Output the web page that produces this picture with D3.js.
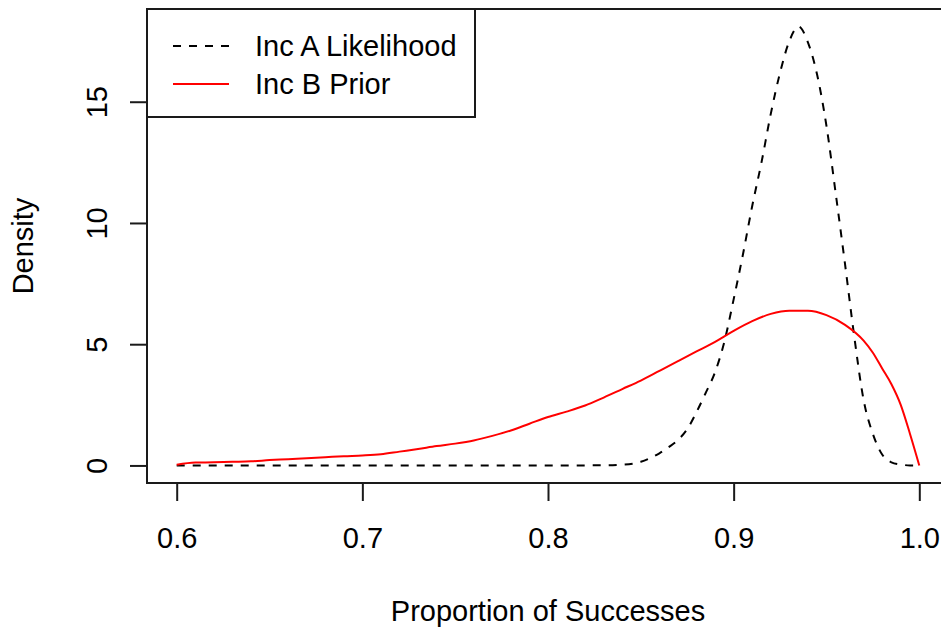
<!DOCTYPE html>
<html>
<head>
<meta charset="utf-8">
<script src="https://cdn.jsdelivr.net/npm/d3@7"></script>
<style>
  html, body { margin: 0; padding: 0; background: #fff; }
  svg { display: block; font-family: "Liberation Sans", Arial, sans-serif; }
</style>
</head>
<body>
<svg id="chart" width="941" height="627"></svg>
<script>
// ---- data ----
const likeX = [0.60, 0.65, 0.70, 0.75, 0.80, 0.83, 0.84, 0.85, 0.86, 0.865, 0.87, 0.875, 0.88, 0.885, 0.89, 0.895,
  0.90, 0.905, 0.91, 0.915, 0.92, 0.925, 0.93, 0.935, 0.94, 0.945, 0.95, 0.955, 0.96, 0.965, 0.97, 0.975,
  0.98, 0.985, 0.99, 0.995, 1.00];
const likeY = [0, 0, 0, 0, 0, 0.005, 0.03, 0.15, 0.5, 0.75, 1.05, 1.5, 2.2, 3.0, 3.85, 5.1,
  6.85, 8.7, 10.7, 12.5, 14.5, 16.2, 17.5, 18.1, 17.45, 16.1, 14.0, 11.2, 8.3, 5.3, 2.7, 1.3,
  0.45, 0.13, 0.04, 0.0, 0.0];

const priorX = [0.60, 0.61, 0.62, 0.63, 0.64, 0.65, 0.66, 0.67, 0.68, 0.69, 0.70, 0.71, 0.72, 0.73, 0.74,
  0.75, 0.76, 0.77, 0.78, 0.79, 0.80, 0.81, 0.82, 0.83, 0.84, 0.85, 0.86, 0.87, 0.88, 0.89, 0.90,
  0.91, 0.92, 0.93, 0.94, 0.95, 0.96, 0.97, 0.975, 0.98, 0.985, 0.99, 0.995, 1.00];
const priorY = [0.03, 0.12, 0.13, 0.15, 0.17, 0.22, 0.26, 0.30, 0.34, 0.38, 0.41, 0.46, 0.57, 0.68, 0.80,
  0.90, 1.03, 1.22, 1.44, 1.72, 2.0, 2.22, 2.47, 2.80, 3.15, 3.5, 3.9, 4.3, 4.7, 5.1, 5.55,
  5.95, 6.25, 6.38, 6.38, 6.2, 5.8, 5.15, 4.65, 4.0, 3.35, 2.5, 1.3, 0.0];

const xTicks = [0.6, 0.7, 0.8, 0.9, 1.0];
const xTickLabels = ["0.6", "0.7", "0.8", "0.9", "1.0"];
const yTicks = [0, 5, 10, 15];
const yTickLabels = ["0", "5", "10", "15"];
const legendLabels = ["Inc A Likelihood", "Inc B Prior"];
const xTitle = "Proportion of Successes";
const yTitle = "Density";

// ---- layout ----
const plot = { left: 147, right: 949, top: 9, bottom: 483 };
const svg = d3.select("#chart");
const FS = 29;

// R-style 4% axis expansion
const xMin = d3.min(priorX.concat(likeX)), xMax = d3.max(priorX.concat(likeX));
const yMinD = 0, yMaxD = d3.max(likeY.concat(priorY));
const xPad = (xMax - xMin) * 0.04, yPad = (yMaxD - yMinD) * 0.04;

const x = d3.scaleLinear().domain([xMin - xPad, xMax + xPad]).range([plot.left, plot.right]);
const y = d3.scaleLinear().domain([yMinD - yPad, yMaxD + yPad]).range([plot.bottom, plot.top]);

const ink = "#1a1a1a";

// curves
const line = d3.line().x(d => x(d[0])).y(d => y(d[1])).curve(d3.curveMonotoneX);

svg.append("path")
  .datum(likeX.map((v, i) => [v, likeY[i]]))
  .attr("d", line)
  .attr("fill", "none")
  .attr("stroke", "#000")
  .attr("stroke-width", 2)
  .attr("stroke-dasharray", "8,8");

svg.append("path")
  .datum(priorX.map((v, i) => [v, priorY[i]]))
  .attr("d", line)
  .attr("fill", "none")
  .attr("stroke", "#ff0000")
  .attr("stroke-width", 2);

// axes
const xAxis = d3.axisBottom(x).tickValues(xTicks).tickFormat((d, i) => xTickLabels[i])
  .tickSizeInner(18).tickSizeOuter(0);
const gx = svg.append("g").attr("transform", `translate(0,${plot.bottom})`).call(xAxis);
gx.select(".domain").remove();
gx.selectAll(".tick line").attr("stroke", ink).attr("stroke-width", 2);
gx.selectAll(".tick text").attr("y", 65).attr("dy", 0)
  .attr("font-size", FS).attr("fill", "#000").attr("font-family", "Liberation Sans, Arial, sans-serif");

const yAxis = d3.axisLeft(y).tickValues(yTicks).tickFormat((d, i) => yTickLabels[i])
  .tickSizeInner(17).tickSizeOuter(0);
const gy = svg.append("g").attr("transform", `translate(${plot.left},0)`).call(yAxis);
gy.select(".domain").remove();
gy.selectAll(".tick line").attr("stroke", ink).attr("stroke-width", 2);
gy.selectAll(".tick text")
  .attr("x", 0).attr("y", 0).attr("dy", 0)
  .attr("text-anchor", "middle")
  .attr("transform", "translate(-40,0) rotate(-90)")
  .attr("font-size", FS).attr("fill", "#000").attr("font-family", "Liberation Sans, Arial, sans-serif");

// plot box
svg.append("rect")
  .attr("x", plot.left).attr("y", plot.top)
  .attr("width", plot.right - plot.left).attr("height", plot.bottom - plot.top)
  .attr("fill", "none").attr("stroke", ink).attr("stroke-width", 2);

// titles
svg.append("text")
  .attr("x", (plot.left + plot.right) / 2).attr("y", 621)
  .attr("text-anchor", "middle").attr("font-size", FS).attr("fill", "#000")
  .text(xTitle);
svg.append("text")
  .attr("transform", `translate(33,${(plot.top + plot.bottom) / 2}) rotate(-90)`)
  .attr("text-anchor", "middle").attr("font-size", FS).attr("fill", "#000")
  .text(yTitle);

// legend
const leg = svg.append("g");
leg.append("rect")
  .attr("x", plot.left).attr("y", plot.top).attr("width", 475 - plot.left).attr("height", 117 - plot.top)
  .attr("fill", "#fff").attr("stroke", ink).attr("stroke-width", 2);
const rowsY = [46, 84];
const legStyles = [{ stroke: "#000", dash: "8,8" }, { stroke: "#ff0000", dash: null }];
legendLabels.forEach((lab, i) => {
  leg.append("line")
    .attr("x1", 173).attr("x2", 229).attr("y1", rowsY[i]).attr("y2", rowsY[i])
    .attr("stroke", legStyles[i].stroke).attr("stroke-width", 2)
    .attr("stroke-dasharray", legStyles[i].dash);
  leg.append("text")
    .attr("x", 255).attr("y", rowsY[i] + 10)
    .attr("font-size", FS).attr("fill", "#000")
    .text(lab);
});
</script>
</body>
</html>
